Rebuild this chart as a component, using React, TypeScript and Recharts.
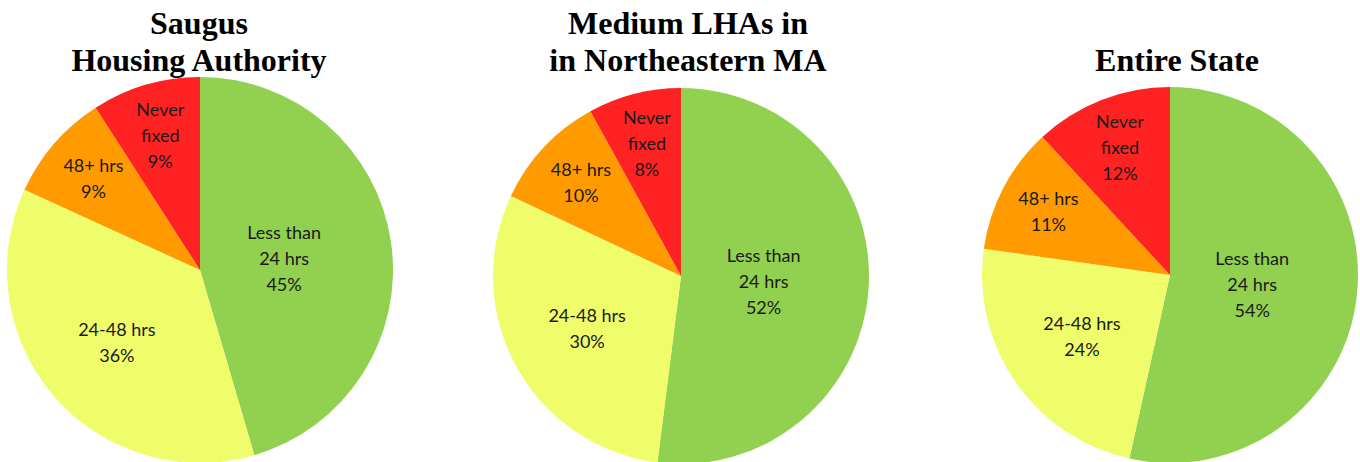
import { PieChart, Pie, Cell } from 'recharts';

const categories = ['Less than\n24 hrs', '24-48 hrs', '48+ hrs', 'Never\nfixed'];
const saugusValues = [45, 36, 9, 9];
const northeastValues = [52, 30, 10, 8];
const stateValues = [54, 24, 11, 12];
const titles = [['Saugus', 'Housing Authority'], ['Medium LHAs in', 'in Northeastern MA'], ['Entire State']];

const COLORS = ['#92D050', '#EFFD6B', '#FF9A00', '#FF2222'];

const toData = (values: number[]) =>
  categories.map((name, i) => ({ name, value: values[i] }));

const RAD = Math.PI / 180;

// rough stand-in for Excel's "best fit" label placement
const renderLabel = (props: any) => {
  const { cx, cy, midAngle, outerRadius, name, value } = props;
  const f = value >= 40 ? 0.44 : value >= 20 ? 0.57 : 0.73;
  const x = cx + outerRadius * f * Math.cos(-midAngle * RAD);
  const y = cy + outerRadius * f * Math.sin(-midAngle * RAD);
  const lines = [...String(name).split('\n'), `${value}%`];
  const lh = 26;
  const top = y - ((lines.length - 1) * lh) / 2;
  return (
    <text
      x={x}
      y={top}
      textAnchor="middle"
      dominantBaseline="central"
      fill="#1a1a1a"
      fontFamily="Lato, sans-serif"
      fontSize={18}
    >
      {lines.map((l, i) => (
        <tspan key={i} x={x} y={top + i * lh}>
          {l}
        </tspan>
      ))}
    </text>
  );
};

const pies = [
  { data: toData(saugusValues), cx: 200, cy: 270, r: 193, tx: 199 },
  { data: toData(northeastValues), cx: 681, cy: 276, r: 188, tx: 688 },
  { data: toData(stateValues), cx: 1170, cy: 275, r: 188, tx: 1177 },
];

const titleStyle: React.CSSProperties = {
  position: 'absolute',
  transform: 'translateX(-50%)',
  fontFamily: '"Liberation Serif", "Times New Roman", serif',
  fontWeight: 'bold',
  fontSize: 32,
  lineHeight: '37px',
  textAlign: 'center',
  whiteSpace: 'nowrap',
  color: '#000',
};

export default function App() {
  return (
    <div style={{ position: 'absolute', left: 0, top: 0, width: 1360, height: 462, background: '#fff', overflow: 'hidden' }}>
      <PieChart width={1360} height={462} margin={{ top: 0, right: 0, bottom: 0, left: 0 }}>
        {pies.map((p, k) => (
          <Pie
            key={k}
            data={p.data}
            dataKey="value"
            nameKey="name"
            cx={p.cx}
            cy={p.cy}
            outerRadius={p.r}
            startAngle={90}
            endAngle={-270}
            stroke="none"
            label={renderLabel}
            labelLine={false}
            isAnimationActive={false}
          >
            {p.data.map((_, i) => (
              <Cell key={`cell-${i}`} fill={COLORS[i]} />
            ))}
          </Pie>
        ))}
      </PieChart>
      {pies.map((p, k) => (
        <div
          key={k}
          style={{ ...titleStyle, left: p.tx, top: titles[k].length === 1 ? 42 : 5 }}
        >
          {titles[k].map((t, i) => (
            <div key={i}>{t}</div>
          ))}
        </div>
      ))}
    </div>
  );
}
